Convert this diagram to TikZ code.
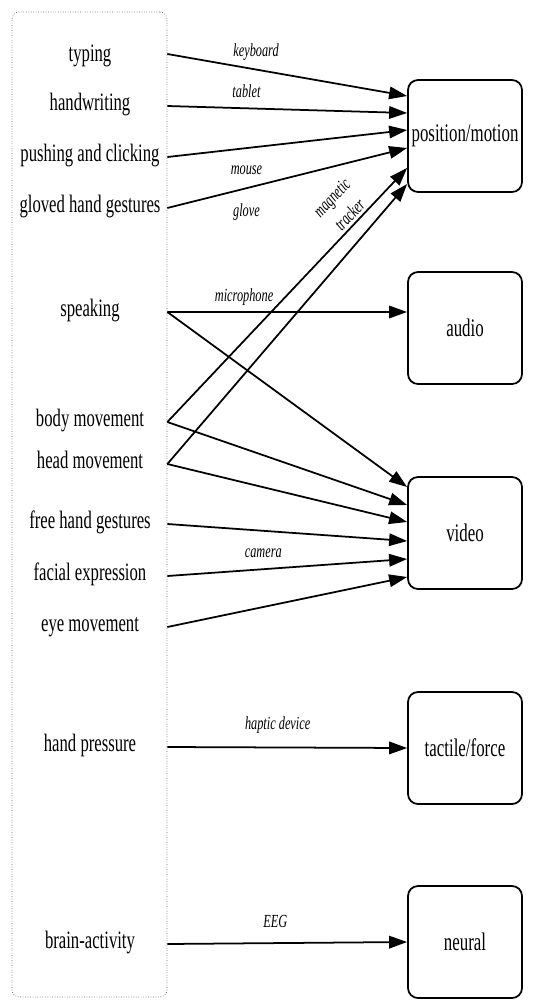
\documentclass[tikz,border=0pt]{standalone}
\usepackage{fontspec}
\setmainfont{Liberation Serif}
\usetikzlibrary{arrows.meta,positioning}
\newcommand{\tall}[1]{\scalebox{1}[1.5]{#1}}

\begin{document}
\begin{tikzpicture}[
        src/.style={anchor=mid, inner sep=1pt, font=\fontsize{9.5}{12}\selectfont},
        mode/.style={rectangle, rounded corners=0.2cm, draw, line width=1pt, minimum width=2.28cm, minimum height=2.24cm, align=center, inner sep=1pt, font=\fontsize{9.6}{12}\selectfont},
        device/.style={inner sep=1pt, font=\fontsize{7}{14}\selectfont\itshape},
        arrow/.style={-{Triangle[length=0.36cm, width=0.25cm]}, line width=1pt}
    ]
        \useasboundingbox (0,0) rectangle (10.76,-20.06);

        % frame round the actions
        \node[draw=black!60, densely dotted, rounded corners=0.15cm, minimum width=3.1cm, minimum height=19.7cm] (frame) at (1.79,-10.09) {};

        % actions of the user
        \node[src] (typing) at (1.8,-1.14) {\tall{typing}};
        \node[src] (handwriting) at (1.8,-2.12) {\tall{handwriting}};
        \node[src] (pushing) at (1.8,-3.14) {\tall{pushing and clicking}};
        \node[src] (gloved) at (1.8,-4.16) {\tall{gloved hand gestures}};
        \node[src] (speaking) at (1.8,-6.24) {\tall{speaking}};
        \node[src] (body) at (1.8,-8.44) {\tall{body movement}};
        \node[src] (head) at (1.8,-9.28) {\tall{head movement}};
        \node[src] (freehand) at (1.8,-10.48) {\tall{free hand gestures}};
        \node[src] (facial) at (1.8,-11.52) {\tall{facial expression}};
        \node[src] (eye) at (1.8,-12.54) {\tall{eye movement}};
        \node[src] (pressure) at (1.8,-14.94) {\tall{hand pressure}};
        \node[src] (brain) at (1.8,-18.88) {\tall{brain-activity}};

        % modalities
        \node[mode] (posmotion) at (9.3,-2.72) {\tall{position/motion}};
        \node[mode] (audio) at (9.3,-6.56) {\tall{audio}};
        \node[mode] (video) at (9.3,-10.66) {\tall{video}};
        \node[mode] (tactile) at (9.3,-14.96) {\tall{tactile/force}};
        \node[mode] (neural) at (9.3,-18.84) {\tall{neural}};

        % devices
        \draw[arrow] ([yshift=0.06cm]typing.mid -| frame.east) -- node[device, pos=.37, yshift=0.34cm] {\tall{keyboard}} ([yshift=0.8cm]posmotion.west);
        \draw[arrow] (handwriting.mid -| frame.east) -- node[device, pos=.33, yshift=0.34cm] {\tall{tablet}} ([yshift=0.46cm]posmotion.west);
        \draw[arrow] (pushing.mid -| frame.east) -- node[device, pos=.33, yshift=-0.44cm] {\tall{mouse}} ([yshift=0.12cm]posmotion.west);
        \draw[arrow] (gloved.mid -| frame.east) -- node[device, pos=.33, yshift=-0.48cm] {\tall{glove}} ([yshift=-0.24cm]posmotion.west);
        \draw[arrow] (body.mid -| frame.east) -- node[device, sloped, above=0.02cm, pos=.79, align=center] {\tall{magnetic}\\\tall{tracker}} ([yshift=-0.64cm]posmotion.west);
        \draw[arrow] (head.mid -| frame.east) -- ([yshift=-0.96cm]posmotion.west);

        \draw[arrow] (speaking.mid -| frame.east) -- node[device, pos=.32, yshift=0.3cm] {\tall{microphone}} ([yshift=0.32cm]audio.west);

        \draw[arrow] (speaking.mid -| frame.east) -- ([yshift=0.92cm]video.west);
        \draw[arrow] (body.mid -| frame.east) -- ([yshift=0.56cm]video.west);
        \draw[arrow] (head.mid -| frame.east) -- ([yshift=0.22cm]video.west);
        \draw[arrow] (freehand.mid -| frame.east) -- ([yshift=-0.16cm]video.west);
        \draw[arrow] (facial.mid -| frame.east) -- node[device, pos=.4, yshift=0.32cm] {\tall{camera}} ([yshift=-0.52cm]video.west);
        \draw[arrow] (eye.mid -| frame.east) -- ([yshift=-0.88cm]video.west);

        \draw[arrow] (pressure.mid -| frame.east) -- node[device, pos=.46, yshift=0.44cm] {\tall{haptic device}} (tactile.west);
        \draw[arrow] (brain.mid -| frame.east) -- node[device, pos=.45, yshift=0.44cm] {\tall{EEG}} (neural.west);
    \end{tikzpicture}
\end{document}
